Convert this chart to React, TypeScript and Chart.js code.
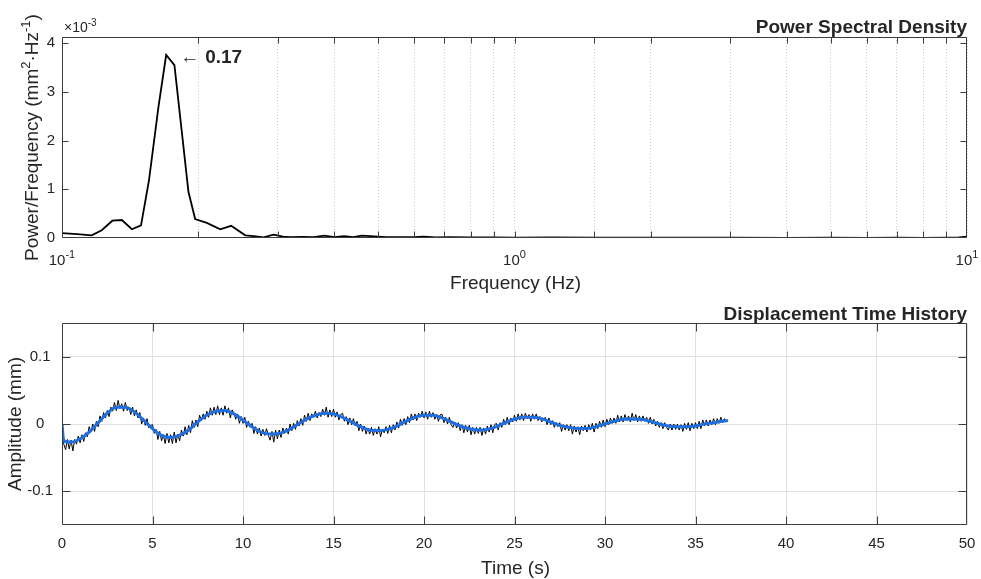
import React, { useEffect, useRef } from 'react';
import { Chart, registerables } from 'chart.js';

Chart.register(...registerables);

const FONT = '"Liberation Sans", Arial, Helvetica, sans-serif';
const INK = '#262626';
const FRAME = '#3c3c3c';

// ---------- Power spectral density (values in ×10⁻³ mm²·Hz⁻¹) ----------
const psdFreq = [0.1, 0.108, 0.1163, 0.1224, 0.1292, 0.1356, 0.1427, 0.1495, 0.1557, 0.1634,
  0.1699, 0.1772, 0.1903, 0.1969, 0.209, 0.2237, 0.2365, 0.2541, 0.2651, 0.2789,
  0.2934, 0.3079, 0.32, 0.34, 0.36, 0.38, 0.40, 0.42, 0.44, 0.46,
  0.49, 0.52, 0.56, 0.60, 0.63, 0.67, 0.72, 0.8, 0.9, 1.0,
  1.2, 1.5, 2.0, 2.5, 3, 4, 5, 6, 7, 8,
  9, 9.6, 10];
const psdPower = [0.10, 0.08, 0.055, 0.16, 0.355, 0.37, 0.18, 0.26, 1.19, 2.70,
  3.76, 3.55, 0.95, 0.39, 0.31, 0.18, 0.25, 0.055, 0.04, 0.015,
  0.07, 0.03, 0.02, 0.025, 0.02, 0.05, 0.02, 0.04, 0.02, 0.05,
  0.035, 0.015, 0.02, 0.015, 0.03, 0.01, 0.015, 0.01, 0.012, 0.008,
  0.01, 0.006, 0.008, 0.005, 0.006, 0.004, 0.005, 0.004, 0.005, 0.004,
  0.006, 0.01, 0.03];
const psdYMax = 4.13;
const psdYTicks = [0, 1, 2, 3, 4];
const peakFreq = 0.1699;
const peakPower = 3.76;
const peakLabel = '0.17';
const psdTitle = 'Power Spectral Density';
const psdXLabel = 'Frequency (Hz)';

// ---------- Displacement time history ----------
const sampleInterval = 0.1; // s
const rawDisp = [
  0, -0.030, -0.038, -0.023, -0.037, -0.024, -0.040, -0.023, -0.030, -0.018,
  -0.028, -0.016, -0.026, -0.013, -0.019, -0.004, -0.012, 0.000, -0.011, 0.004,
  -0.004, 0.012, 0.004, 0.017, 0.009, 0.020, 0.011, 0.025, 0.019, 0.032,
  0.020, 0.035, 0.023, 0.030, 0.019, 0.032, 0.020, 0.025, 0.014, 0.025,
  0.012, 0.021, 0.009, 0.017, 0.000, 0.009, -0.002, 0.008, -0.006, -0.002,
  -0.001, -0.014, -0.008, -0.023, -0.011, -0.025, -0.016, -0.029, -0.014, -0.028,
  -0.016, -0.029, -0.012, -0.028, -0.015, -0.025, -0.009, -0.018, -0.004, -0.016,
  -0.002, -0.013, 0.005, -0.005, 0.006, -0.004, 0.013, 0.005, 0.015, 0.007,
  0.019, 0.010, 0.024, 0.013, 0.025, 0.014, 0.027, 0.014, 0.024, 0.013,
  0.027, 0.016, 0.024, 0.009, 0.021, 0.016, 0.007, 0.015, 0.001, 0.011,
  0.001, 0.010, -0.005, 0.004, -0.005, 0.001, -0.014, -0.004, -0.015, -0.006,
  -0.018, -0.008, -0.017, -0.007, -0.017, -0.024, -0.011, -0.027, -0.009, -0.022,
  -0.009, -0.020, -0.006, -0.014, -0.006, -0.015, 0.000, -0.010, 0.001, -0.008,
  0.005, -0.003, 0.008, -0.002, 0.013, 0.004, 0.016, 0.005, 0.015, 0.010,
  0.019, 0.009, 0.017, 0.011, 0.022, 0.013, 0.025, 0.010, 0.021, 0.011,
  0.022, 0.010, 0.018, 0.006, 0.014, 0.016, 0.004, 0.011, -0.001, 0.009,
  -0.001, 0.008, -0.003, 0.004, -0.010, 0.000, -0.011, -0.003, -0.015, -0.006,
  -0.015, -0.005, -0.017, -0.007, -0.015, -0.004, -0.019, -0.008, -0.013, -0.004,
  -0.014, -0.002, -0.013, -0.001, -0.009, 0.003, -0.006, 0.007, -0.002, 0.008,
  -0.001, 0.011, 0.002, 0.015, 0.006, 0.015, 0.005, 0.016, 0.010, 0.019,
  0.009, 0.018, 0.007, 0.019, 0.010, 0.017, 0.007, 0.014, 0.004, 0.014,
  0.014, 0.002, 0.010, 0.000, 0.010, -0.001, -0.005, 0.003, -0.006, 0.002,
  -0.010, -0.001, -0.013, -0.002, -0.012, -0.002, -0.016, -0.005, -0.015, -0.005,
  -0.014, -0.005, -0.017, -0.006, -0.015, -0.003, -0.012, -0.001, -0.013, -0.001,
  0.001, -0.009, 0.002, -0.005, 0.007, -0.001, 0.010, -0.001, 0.009, 0.003,
  0.013, 0.004, 0.015, 0.006, 0.015, 0.005, 0.016, 0.008, 0.014, 0.004,
  0.015, 0.007, 0.015, 0.005, 0.011, 0.003, 0.006, 0.010, -0.001, 0.009,
  -0.001, 0.005, -0.005, 0.002, -0.004, 0.002, -0.011, -0.001, -0.009, -0.001,
  -0.010, -0.001, -0.015, -0.003, -0.012, -0.004, -0.016, -0.003, -0.010, -0.002,
  -0.012, -0.001, -0.009, 0.001, -0.012, 0.001, -0.007, 0.004, -0.005, 0.006,
  -0.004, 0.007, -0.001, 0.009, 0.001, 0.009, 0.001, 0.013, 0.003, 0.012,
  0.003, 0.014, 0.005, 0.012, 0.003, 0.016, 0.005, 0.014, 0.003, 0.012,
  0.004, 0.012, 0.004, 0.010, 0.001, 0.010, 0.000, 0.007, -0.003, 0.004,
  -0.005, 0.002, -0.007, 0.002, -0.005, -0.009, 0.000, -0.009, 0.000, -0.008,
  0.000, -0.009, -0.001, -0.011, 0.001, -0.008, 0.002, -0.010, 0.001, -0.007,
  0.002, -0.007, 0.004, -0.007, 0.006, -0.003, 0.006, -0.003, 0.006, -0.001,
  0.008, -0.001, 0.008, 0.001, 0.010, 0.002, 0.008, 0.004, 0.006];
const smoothTime = [0, 0.1, 0.5, 1.0, 1.5, 2.0, 2.5, 3.0, 3.5, 4.0,
  4.5, 5.0, 5.5, 6.0, 6.5, 7.0, 7.5, 8.0, 8.5, 9.0,
  9.5, 10.0, 10.5, 11.0, 11.5, 12.0, 12.5, 13.0, 13.5, 14.0,
  14.5, 15.0, 15.5, 16.0, 16.5, 17.0, 17.5, 18.0, 18.5, 19.0,
  19.5, 20.0, 20.5, 21.0, 21.5, 22.0, 22.5, 23.0, 23.5, 24.0,
  24.5, 25.0, 25.5, 26.0, 26.5, 27.0, 27.5, 28.0, 28.5, 29.0,
  29.5, 30.0, 30.5, 31.0, 31.5, 32.0, 32.5, 33.0, 33.5, 34.0,
  34.5, 35.0, 35.5, 36.0, 36.5, 36.8];
const smoothDisp = [0, -0.025, -0.027, -0.022, -0.012, 0.002, 0.016, 0.025, 0.025, 0.018,
  0.006, -0.007, -0.017, -0.020, -0.017, -0.009, 0.003, 0.013, 0.019, 0.020,
  0.015, 0.006, -0.004, -0.012, -0.015, -0.014, -0.009, -0.001, 0.007, 0.013,
  0.016, 0.015, 0.010, 0.003, -0.004, -0.009, -0.010, -0.008, -0.003, 0.004,
  0.010, 0.013, 0.013, 0.009, 0.003, -0.003, -0.007, -0.009, -0.008, -0.004,
  0.002, 0.007, 0.010, 0.010, 0.008, 0.003, -0.002, -0.005, -0.0065, -0.0065,
  -0.004, 0.000, 0.004, 0.007, 0.0075, 0.007, 0.004, 0.000, -0.003, -0.004,
  -0.004, -0.003, 0.000, 0.002, 0.004, 0.005];
const timeMin = 0;
const timeMax = 50;
const timeStep = 5;
const ampMin = -0.15;
const ampMax = 0.15;
const ampTicks = [-0.1, 0, 0.1];
const ampTickLabels = ['-0.1', '0', '0.1'];
const dispTitle = 'Displacement Time History';
const dispXLabel = 'Time (s)';
const dispYLabel = 'Amplitude (mm)';

type Piece = { text: string; size: number; bold?: boolean; rise?: number };

const font = (size: number, bold = false) => `${bold ? 'bold ' : ''}${size}px ${FONT}`;

function drawPieces(ctx: CanvasRenderingContext2D, pieces: Piece[], x: number, y: number,
  align: 'left' | 'center' | 'right', rotate = false) {
  ctx.save();
  ctx.translate(x, y);
  if (rotate) ctx.rotate(-Math.PI / 2);
  ctx.textBaseline = 'alphabetic';
  ctx.textAlign = 'left';
  ctx.fillStyle = INK;
  const widths = pieces.map((p) => { ctx.font = font(p.size, p.bold); return ctx.measureText(p.text).width; });
  const total = widths.reduce((a, b) => a + b, 0);
  let cx = align === 'left' ? 0 : align === 'center' ? -total / 2 : -total;
  pieces.forEach((p, i) => {
    ctx.font = font(p.size, p.bold);
    ctx.fillText(p.text, cx, -(p.rise || 0));
    cx += widths[i];
  });
  ctx.restore();
}

function drawFrame(chart: any, len: number) {
  const { ctx, chartArea: a, scales } = chart;
  const L = Math.round(a.left) + 0.5, R = Math.round(a.right) - 0.5;
  const T = Math.round(a.top) + 0.5, B = Math.round(a.bottom) - 0.5;
  ctx.save();
  ctx.strokeStyle = FRAME;
  ctx.lineWidth = 1;
  ctx.beginPath();
  ctx.rect(L, T, R - L, B - T);
  for (const t of scales.x.ticks) {
    const px = Math.round(scales.x.getPixelForValue(t.value)) + 0.5;
    if (px <= L + 1 || px >= R - 1) continue;
    ctx.moveTo(px, B); ctx.lineTo(px, B - len);
    ctx.moveTo(px, T); ctx.lineTo(px, T + len);
  }
  for (const t of scales.y.ticks) {
    const py = Math.round(scales.y.getPixelForValue(t.value)) + 0.5;
    if (py <= T + 1 || py >= B - 1) continue;
    ctx.moveTo(L, py); ctx.lineTo(L + len, py);
    ctx.moveTo(R, py); ctx.lineTo(R - len, py);
  }
  ctx.stroke();
  ctx.restore();
}

const psdPlugin = {
  id: 'psdDecor',
  afterDraw(chart: any) {
    const { ctx, chartArea: a, scales } = chart;
    drawFrame(chart, 6);
    for (const t of scales.x.ticks) {
      const v = t.value;
      const e = Math.round(Math.log10(v));
      if (Math.abs(v - Math.pow(10, e)) > 1e-9) continue;
      const px = scales.x.getPixelForValue(v);
      drawPieces(ctx, [{ text: '10', size: 15 }, { text: String(e), size: 11, rise: 7 }], px, 265, 'center');
    }
    drawPieces(ctx, [{ text: '×10', size: 14 }, { text: '-3', size: 10, rise: 6 }], a.left + 2, 32, 'left');
    drawPieces(ctx, [{ text: psdTitle, size: 19, bold: true }], a.right, 33, 'right');
    drawPieces(ctx, [{ text: psdXLabel, size: 19 }], (a.left + a.right) / 2 + 1, 289, 'center');
    drawPieces(ctx, [
      { text: 'Power/Frequency (mm', size: 19 },
      { text: '2', size: 13, rise: 8 },
      { text: '·Hz', size: 19 },
      { text: '-1', size: 13, rise: 8 },
      { text: ')', size: 19 },
    ], 38, (a.top + a.bottom) / 2, 'center', true);
    const px = scales.x.getPixelForValue(peakFreq);
    const py = scales.y.getPixelForValue(peakPower);
    drawPieces(ctx, [{ text: '←', size: 19 }], px + 14, py + 8, 'left');
    drawPieces(ctx, [{ text: peakLabel, size: 19, bold: true }], px + 39, py + 8, 'left');
  },
};

const dispPlugin = {
  id: 'dispDecor',
  afterDraw(chart: any) {
    const { ctx, chartArea: a } = chart;
    drawFrame(chart, 8);
    drawPieces(ctx, [{ text: dispTitle, size: 19, bold: true }], a.right, 30, 'right');
    drawPieces(ctx, [{ text: dispXLabel, size: 19 }], (a.left + a.right) / 2 + 1, 284, 'center');
    drawPieces(ctx, [{ text: dispYLabel, size: 19 }], 21, (a.top + a.bottom) / 2, 'center', true);
  },
};

export default function App() {
  const topRef = useRef<HTMLCanvasElement>(null);
  const botRef = useRef<HTMLCanvasElement>(null);

  useEffect(() => {
    const tickFont = { family: FONT, size: 15 };
    const top = new Chart(topRef.current as HTMLCanvasElement, {
      type: 'line',
      data: {
        datasets: [{
          data: psdFreq.map((f, i) => ({ x: f, y: psdPower[i] })),
          borderColor: '#000000',
          borderWidth: 1.8,
          pointRadius: 0,
          tension: 0,
          fill: false,
        }],
      },
      options: {
        responsive: false,
        animation: false,
        devicePixelRatio: 1,
        layout: { padding: { top: 37, right: 14, left: 0, bottom: 0 } },
        plugins: { legend: { display: false }, tooltip: { enabled: false }, title: { display: false } },
        scales: {
          x: {
            type: 'logarithmic',
            min: 0.1,
            max: 10,
            ticks: { display: false },
            grid: { color: '#cfcfcf', lineWidth: 1, drawTicks: false },
            border: { display: false, dash: [1, 2] },
            afterFit: (s: any) => { s.height = 62; s.paddingLeft = 0; s.paddingRight = 0; },
          },
          y: {
            type: 'linear',
            min: 0,
            max: psdYMax,
            afterBuildTicks: (s: any) => { s.ticks = psdYTicks.map((v) => ({ value: v })); },
            ticks: { font: tickFont, color: INK, padding: 7, crossAlign: 'near', callback: (v: any) => String(v) },
            grid: { display: false, drawTicks: false },
            border: { display: false },
            afterFit: (s: any) => { s.width = 62; },
          },
        },
      } as any,
      plugins: [psdPlugin],
    });

    const bottom = new Chart(botRef.current as HTMLCanvasElement, {
      type: 'line',
      data: {
        datasets: [
          {
            data: smoothTime.map((t, i) => ({ x: t, y: smoothDisp[i] })),
            borderColor: '#1f6fe0',
            borderWidth: 3,
            pointRadius: 0,
            cubicInterpolationMode: 'monotone',
            fill: false,
          },
          {
            data: rawDisp.map((v, i) => ({ x: i * sampleInterval, y: v })),
            borderColor: '#000000',
            borderWidth: 1,
            pointRadius: 0,
            tension: 0,
            fill: false,
          },
        ],
      },
      options: {
        responsive: false,
        animation: false,
        devicePixelRatio: 1,
        layout: { padding: { top: 33, right: 14, left: 0, bottom: 0 } },
        plugins: { legend: { display: false }, tooltip: { enabled: false }, title: { display: false } },
        scales: {
          x: {
            type: 'linear',
            min: timeMin,
            max: timeMax,
            ticks: { stepSize: timeStep, font: tickFont, color: INK, padding: 10, maxRotation: 0, autoSkip: false },
            grid: { color: '#e1e1e1', lineWidth: 1, drawTicks: false },
            border: { display: false },
            afterFit: (s: any) => { s.height = 54; s.paddingLeft = 0; s.paddingRight = 0; },
          },
          y: {
            type: 'linear',
            min: ampMin,
            max: ampMax,
            afterBuildTicks: (s: any) => { s.ticks = ampTicks.map((v) => ({ value: v })); },
            ticks: {
              font: tickFont,
              color: INK,
              padding: 9,
              crossAlign: 'center',
              callback: (_v: any, i: number) => ampTickLabels[i],
            },
            grid: { color: '#e1e1e1', lineWidth: 1, drawTicks: false },
            border: { display: false },
            afterFit: (s: any) => { s.width = 62; },
          },
        },
      } as any,
      plugins: [dispPlugin],
    });

    return () => { top.destroy(); bottom.destroy(); };
  }, []);

  return (
    <div style={{ position: 'absolute', left: 0, top: 0, width: 981, height: 579, background: '#ffffff' }}>
      <canvas ref={topRef} width={981} height={300} style={{ position: 'absolute', left: 0, top: 0, display: 'block' }} />
      <canvas ref={botRef} width={981} height={289} style={{ position: 'absolute', left: 0, top: 290, display: 'block' }} />
    </div>
  );
}
